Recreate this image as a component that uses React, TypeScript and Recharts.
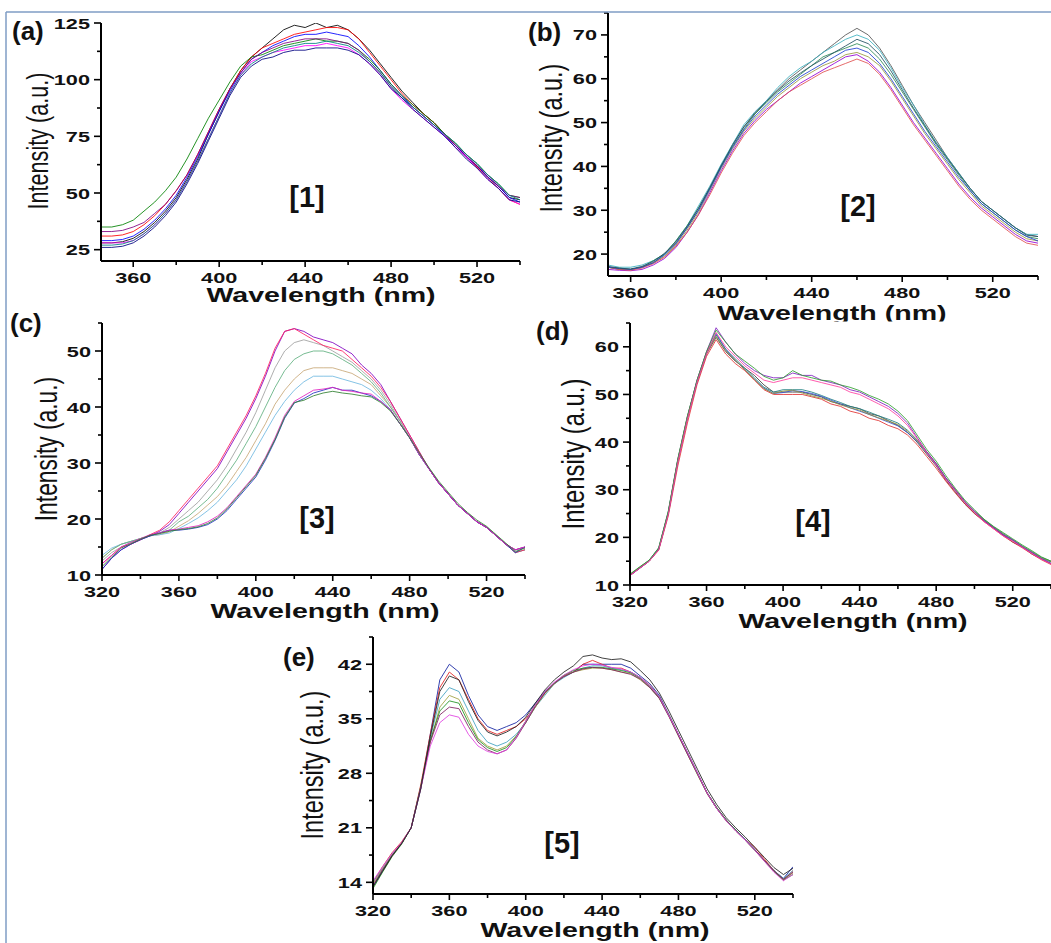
import React from 'react';
import { LineChart, Line, XAxis, YAxis } from 'recharts';

// ---------- Panel (a) ----------
const A_W = [345,350,355,360,365,370,375,380,385,390, 395,400,405,410,415,420,425,430,435,440, 445,450,455,460,465,470,475,480,485,490, 495,500,505,510,515,520,525,530,535,540];
const A1 = [28,28,28.5,30,33,37,42,48,56,65, 76,86,96,104,110,114,118,122,124,123, 125,123,124,122,118,113,107,101,95,90, 85,81,76,71,66,62,57,53,48,47];
const A2 = [31,31,31.5,33,36,40,45,51,58,67, 77,87,96,104,110,114,116,118,120,121, 122,123,123,122,118,112,106,100,94,89, 85,81,76,71,66,61.5,57,52,47,45];
const A3 = [29,29,29.5,31,34,38,43,49,57,66, 76,86,95,103,109,112,115,117,119,120, 120,121,120,119,115,110,104,98,93,88, 84,80,75,71,66,62,57,53,48,46];
const A4 = [35,35,36,38,42,46,51,57,65,74, 83,91,99,106,110,111,113,115,116,117, 118,117,117,116,113,109,104,98,93,89, 85,81,76,72,67,63,58,54,49,48];
const A5 = [28,28,28,29,32,36,41,47,55,64, 74,84,94,102,108,110,112,113,114,115, 115,116,115,114,111,107,102,96,91,87, 83,79,75,70,66,61,56,52,47,45];
const A6 = [33,33,33.5,35,37,41,45,51,58,67, 77,87,96,103,109,112,114,116,117,118, 118,118,117,116,113,108,103,97,92,88, 84,80,76,71,67,62,58,53,49,48];
const A7 = [27,27,27.5,29,32,36,41,47,55,64, 74,84,94,102,107,110,112,114,115,116, 116,117,116,115,112,108,103,97,92,88, 84,80,76,72,67,63,58,54,49,47];
const A8 = [26,26,26.5,28,31,35,40,46,54,63, 73,83,93,101,106,109,110,112,113,113, 114,114,114,113,111,107,102,96,92,87, 83,79,75,70,65,61,56,52,47,46];
const A_X_MAJOR = [360,400,440,480,520];
const A_X_MINOR = [380,420,460,500,540];
const A_Y_MAJOR = [25,50,75,100,125];
const A_Y_MINOR = [37.5,62.5,87.5,112.5];

// ---------- Panel (b) ----------
const B_W = [350,355,360,365,370,375,380,385,390,395, 400,405,410,415,420,425,430,435,440,445, 450,455,460,465,470,475,480,485,490,495, 500,505,510,515,520,525,530,535,540];
const B1 = [17,16.5,16.5,17,18,20,22.5,26,30,35, 40,45,49,52,55,57.5,60,62,64,66, 68,70,71.5,70,67,63,58.5,54,50,46, 42,38.5,35,32,30,28,26,24.5,24];
const B2 = [17.5,17,17,17.5,18.5,20,23,26.5,31,35.5, 40.5,45,49.5,52.5,55,58,60.5,62.5,64,66, 67.5,69,70,69,66.5,62.5,58,54,49.5,45.5, 42,38.5,35,32,30,28,26,24.5,24.5];
const B3 = [17,16.8,16.5,17,18.5,20,23,26.5,30.5,35, 40,44.5,48.5,52,54.5,57,59,61,63,65, 66,67,68,67,64.5,61,57,53,49,45, 41.5,38,34.5,31.5,29.5,27.5,25.5,24,23.5];
const B4 = [17,16.5,16.5,17,18,19.5,22,25.5,29.5,34.5, 39.5,44,48,51,53.5,56,58,60,61.5,63, 64,65.5,66,65,63,59.5,55.5,51.5,47.5,44, 40.5,37,34,31,29,27,25,23.5,23];
const B5 = [16.5,16.3,16.2,16.5,17.5,19,21.5,25,29,34, 39,43.5,47.5,50.5,53,55,57,59,60.5,62, 63.5,65,65.5,64,61.5,58,54,50,46.5,43, 39.5,36,33,30.5,28.5,26.5,24.5,23,22.5];
const B6 = [17,16.5,16.3,16.8,17.8,19.3,21.8,25,29,33.5, 38.5,43,47,50,52.5,55,57,58.5,60,61.5, 62.5,63.5,64.5,63.5,61,57.5,53.5,49.5,46,42.5, 39,35.5,32.5,30,28,26,24,22.5,22];
const B7 = [17,16.7,16.5,17,18,19.8,22.3,26,30,34.8, 39.8,44.3,48.3,51.5,54,56.5,58.5,60.5,62,63.5, 65,66.5,67,66,63.5,60,56,52,48,44.5, 41,37.5,34.5,31.5,29.5,27.5,25.5,24,23];
const B8 = [17.2,16.8,16.6,17.2,18.3,20.2,22.8,26.3,30.5,35.2, 40.2,44.8,49,52.3,54.8,57.3,59.5,61.3,63,64.5, 66,67.5,69,68,65.5,61.8,57.5,53.3,49.3,45.3, 41.8,38.3,35,32,30,28,26,24.3,24];
const B_X_MAJOR = [360,400,440,480,520];
const B_X_MINOR = [380,420,460,500,540];
const B_Y_MAJOR = [20,30,40,50,60,70];
const B_Y_MINOR = [25,35,45,55,65,75];

// ---------- Panel (c) ----------
const C_W = [320,325,330,335,340,345,350,355,360,365, 370,375,380,385,390,395,400,405,410,415, 420,425,430,435,440,445,450,455,460,465, 470,475,480,485,490,495,500,505,510,515, 520,525,530,535,540];
const C1 = [11,13,14.5,15.5,16.3,17,17.8,19,21,23, 25,27,29,32,35,38,41.5,45.5,50,53.5, 54,53.5,52.5,52,51.5,50.5,49.5,47.5,46,44, 41,38,35,32,29,26.5,24.5,22.5,21,19.5, 18.5,17,15.5,14.5,15];
const C2 = [12,13.5,15,15.5,16.3,17.2,18,19.5,21.5,23.5, 25.5,27.5,29.5,32.5,35.5,38.5,42,46,50.5,53.5, 54,53,52,51,50.5,50,48.5,47,45.5,43.5, 41,38,35,32,29,26.5,24.5,22.5,21,19.5, 18.5,17,15.5,14,14.5];
const C3 = [12.5,14,15,15.8,16.5,17,17.5,18.5,20,21.5, 23,25,27,29.5,32.5,35.5,39,43,47,50, 51.5,52,51.5,51,50,49,48,46.5,45,43, 40.5,37.5,34.5,31.5,29,26.5,24.5,22.5,21,19.5, 18.5,17,15.5,14.5,15];
const C4 = [13,14.5,15.5,16,16.5,17,17.5,18,19.5,20.5, 22,23.5,25.5,28,30.5,33.5,36.5,40,43.5,46.5, 48.5,49.5,50,50,49.5,48.5,47.5,46,44.5,42.5, 40,37.5,34.5,31.5,29,26.5,24.5,22.5,21,19.5, 18.5,17,15.5,14,14.5];
const C5 = [13,14.5,15.5,16,16.5,17,17.2,17.7,18.7,19.7, 21,22.5,24,26,28.5,31,34,37,40.5,43, 45,46.5,47,47,47,46.5,46,45,44,42, 40,37.5,34.5,31.5,29,26.5,24.5,22.5,21,19.5, 18.5,17,15.5,14.5,15];
const C6 = [13.5,14.8,15.5,16,16.5,17,17.2,17.5,18.3,19.2, 20.2,21.5,23,25,27,29.5,32.5,35.5,38.5,41, 43,44.5,45.5,45.5,45.5,45,44.5,44,43,41.5, 39.5,37,34.5,31.5,29,26.5,24.5,22.5,21,19.5, 18.5,17,15.5,14,14.5];
const C7 = [11,13,14.5,15.5,16.3,17,17.5,18,18,18.2, 18.5,19,20,21.5,23.5,25.5,27.5,30.5,34,38, 40.7,41.5,42.5,43,43.5,43,43,42.5,42,41, 39.5,37,34.5,31.5,29,26.5,24.5,22.5,21,19.5, 18.5,17,15.5,14,15];
const C8 = [12,13.5,15,15.8,16.5,17.2,17.5,18,18.2,18.5, 18.8,19.5,20.5,22,24,26,28,31,34.5,38.5, 41,42,43,43.2,43.5,43,42.8,42.5,42.3,41, 39.5,37,34.5,31.5,29,26.5,24.5,22.5,21,19.5, 18.5,17,15.5,14.5,15];
const C9 = [11.5,13.2,14.8,15.6,16.4,17.1,17.4,17.8,18.1,18.3, 18.6,19.2,20.2,21.8,23.8,25.8,27.8,30.8,34.2,38.2, 40.8,41.2,42,42.5,42.8,42.5,42.3,42,41.8,40.8, 39.3,37,34.5,31.8,29.2,26.8,24.8,22.8,21.2,19.8, 18.7,17.2,15.7,14.2,14.8];
const C_X_MAJOR = [320,360,400,440,480,520];
const C_X_MINOR = [340,380,420,460,500,540];
const C_Y_MAJOR = [10,20,30,40,50];
const C_Y_MINOR = [15,25,35,45,55];

// ---------- Panel (d) ----------
const D_W = [320,325,330,335,340,345,350,355,360,365, 370,375,380,385,390,395,400,405,410,415, 420,425,430,435,440,445,450,455,460,465, 470,475,480,485,490,495,500,505,510,515, 520,525,530,535,540];
const D1 = [12,13.5,15,17.5,25,36,45,52.5,58.5,62, 59,57,55.5,54,52,50.5,50.5,50.5,50.5,50, 49.5,48.5,48,47.5,47,46,45.5,44.5,43.5,42, 40,37.5,35,32,29.5,27,25,23.5,22,20.5, 19,18,16.5,15.5,14.5];
const D2 = [12.2,13.7,15.2,17.8,25.5,36.5,45.5,52.8,58.8,62.5, 59.5,57.5,55.5,53.5,51.5,50.5,51,51,51,50.5, 49.8,49,48.3,47.5,47,46.3,45.5,44.8,44,42.5, 40.5,38,35.5,32.5,30,27.5,25.5,23.8,22.2,20.8, 19.5,18.2,17,15.8,15];
const D3 = [12,13.5,15,17.3,24.5,35,44,52,58,61.5, 58.5,56.5,55,53,51,50,50,50,50,49.5, 49,48,47.5,46.5,46,45,44.5,43.5,42.8,41.5, 39.5,37,34.5,31.8,29.3,27,25,23.3,21.8,20.3, 19,17.8,16.5,15.3,14.3];
const D4 = [12.1,13.6,15.1,17.6,25.2,36.2,45.2,52.6,58.6,62.8, 59.5,57.2,55.2,53.2,51.3,50.2,50.4,50.8,50.6,50.2, 49.6,48.8,48,47.2,46.5,45.8,45,44.2,43.4,42, 40.2,37.8,35.2,32.3,29.8,27.3,25.3,23.6,22.1,20.6, 19.3,18,16.8,15.6,14.8];
const D5 = [12,13.5,15,17.5,25,36,45,53,59,64, 61,58.5,56.5,55,54,53.5,53.5,54.5,54,54, 53,52.5,52,51,50.5,49.5,48.5,47.5,46,44, 41,38,35.5,32.5,30,27.5,25.5,23.5,22,20.5, 19.5,18,16.8,15.5,14.5];
const D6 = [12.3,13.8,15.2,17.8,25.3,36.3,45.3,53,59,63.5, 61,58.5,57,55.5,53.8,53,53.5,55,54,53.5, 53,52.8,52,51.5,50.8,49.8,49,48,46.5,44.5, 41.5,38.5,36,33,30.3,27.8,25.8,23.8,22.3,21, 19.7,18.4,17.2,15.9,15];
const D7 = [12,13.5,15,17.4,24.8,35.8,44.8,52.5,58.5,63, 60,58,56,54.5,53,52.5,53,53.5,53.5,53, 52.5,52,51.5,50.5,50,49,48,47,45.5,43.5, 40.8,37.8,35.2,32.2,29.8,27.3,25.3,23.3,21.8,20.3, 19.2,17.9,16.6,15.4,14.4];
const D8 = [12.2,13.7,15.1,17.6,25.3,36.4,45.4,52.7,58.7,62.2, 59.2,57.2,55.2,53.2,51.2,50.2,50.7,50.9,50.3,49.7, 49.2,48.6,47.8,47.2,46.7,45.8,45.1,44.4,43.7,42.3, 40.4,37.9,35.4,32.4,29.9,27.4,25.4,23.7,22.1,20.7, 19.4,18.1,16.9,15.7,14.9];
const D_X_MAJOR = [320,360,400,440,480,520];
const D_X_MINOR = [340,380,420,460,500,540];
const D_Y_MAJOR = [10,20,30,40,50,60];
const D_Y_MINOR = [15,25,35,45,55,65];

// ---------- Panel (e) ----------
const E_W = [320,325,330,335,340,345,350,355,360,365, 370,375,380,385,390,395,400,405,410,415, 420,425,430,435,440,445,450,455,460,465, 470,475,480,485,490,495,500,505,510,515, 520,525,530,535,540];
const E1 = [13.5,15.5,17.5,19,21,26,33,40,42,41, 38,35.5,34,33.5,34,34.5,35.5,37,38.5,39.5, 40.5,41,42,42,42,42,42,41.5,40.5,39.5, 38,35.5,33,30.5,28,25.5,23.5,22,20.7,19.5, 18.2,16.8,15.5,14.5,16];
const E2 = [14,16,17.8,19.2,21,26.5,33,39,41,40, 37.5,35,33.5,33,33.5,34,35,36.5,38.3,39.5, 40.5,41,42,42.5,42,41.5,41.5,41,40.3,39.3, 37.8,35.5,33,30.5,28,25.5,23.6,22,20.7,19.5, 18.5,17,15.5,14.3,15.5];
const E3 = [14,15.8,17.6,19,21,26,32.5,37.5,39,38.5, 36,33.5,32,31.5,32,33,34.5,36.5,38,39.5, 40.3,41,41.5,41.8,41.8,41.5,41.3,41,40.3,39.2, 37.8,35.5,33,30.5,28,25.5,23.6,22,20.7,19.5, 18.2,16.8,15.5,14.5,15.5];
const E4 = [13.8,15.7,17.5,19,21,26,32,36.5,38,37.5, 35,32.5,31.5,31,31.5,32.8,34.5,36.5,38.2,39.5, 40.5,41,41.3,41.5,41.5,41.3,41,40.8,40,39, 37.6,35.3,32.8,30.3,27.8,25.4,23.5,21.9,20.6,19.4, 18.1,16.7,15.4,14.4,15.2];
const E5 = [13.2,15.3,17.3,18.9,21,26.3,32.2,36,37.3,37, 34.5,32.3,31.3,30.8,31.3,32.7,34.7,36.8,38.4,39.6, 40.6,41.2,41.5,41.6,41.6,41.4,41.2,40.9,40.2,39.1, 37.7,35.4,32.9,30.4,27.9,25.5,23.6,22,20.7,19.4, 18.1,16.8,15.4,14.3,15];
const E6 = [13.6,15.6,17.4,19,21,26.2,32,35.5,36.5,36.3, 34,32,31,30.5,31,32.5,34.5,36.6,38.3,39.6, 40.4,41,41.4,41.6,41.5,41.3,41,40.7,40.1,39, 37.6,35.3,32.8,30.3,27.9,25.4,23.5,21.9,20.6,19.4, 18.2,16.8,15.5,14.4,15.3];
const E7 = [14.2,16,17.7,19.1,21,26,31.5,34.5,35.5,35.2, 33,31.5,30.8,30.5,31,32.6,34.7,36.8,38.5,39.7, 40.6,41.3,41.8,42,41.9,41.6,41.4,41,40.3,39.2, 37.8,35.4,33,30.5,28,25.5,23.5,21.9,20.6,19.4, 18.1,16.7,15.3,14.2,15];
const E8 = [13.4,15.4,17.4,19,21,26,32.7,38.5,40.5,40, 37.2,34.8,33.3,32.8,33.3,34,35.2,37,38.7,40, 41,41.8,43,43.2,42.8,42.6,42.7,42.3,41.2,40, 38.3,36,33.5,31,28.5,26,24,22.3,21,19.8, 18.5,17.2,15.9,15,15.8];
const E_X_MAJOR = [320,360,400,440,480,520];
const E_X_MINOR = [340,380,420,460,500,540];
const E_Y_MAJOR = [14,21,28,35,42];
const E_Y_MINOR = [17.5,24.5,31.5,38.5,45.5];

// ---------- styling / layout ----------
const FONT = "'Liberation Sans', Arial, Helvetica, sans-serif";
const STRETCH = 1.4;

const COLORS_A = ['#000000', '#ff0000', '#0000ff', '#008000', '#ff00ff', '#800080', '#008080', '#000080'];
const COLORS_B = ['#555555', '#3cb0c0', '#2e8b57', '#9a9a40', '#9400d3', '#e05050', '#2040d0', '#205060'];
const COLORS_C = ['#8000c0', '#ff2060', '#a0a0a0', '#60b080', '#c8a878', '#70b8e0', '#2030c0', '#e020c0', '#308030'];
const COLORS_D = ['#404040', '#208080', '#e03030', '#3050d0', '#8020c0', '#30a030', '#ff40a0', '#909040'];
const COLORS_E = ['#1020a0', '#e02020', '#40a0c0', '#a0a040', '#209020', '#802060', '#e040e0', '#202020'];

type PanelCfg = {
  w: number[];
  series: number[][];
  colors: string[];
  xDomain: [number, number];
  yDomain: [number, number];
  xMajor: number[];
  xMinor: number[];
  yMajor: number[];
  yMinor: number[];
  left: number;
  top: number;
  right: number;
  bottom: number;
};

const XTick = (props: any) => {
  const { x, y, payload, majors } = props;
  const v = payload.value;
  const major = majors.includes(v);
  return (
    <g>
      <line x1={x} x2={x} y1={y} y2={y + (major ? 6 : 4)} stroke="#000" strokeWidth={1.6} />
      {major && (
        <text
          transform={`translate(${x},${y + 22}) scale(${STRETCH},1)`}
          textAnchor="middle"
          fontFamily={FONT}
          fontWeight="bold"
          fontSize={15.5}
          fill="#111"
        >
          {v}
        </text>
      )}
    </g>
  );
};

const YTick = (props: any) => {
  const { x, y, payload, majors } = props;
  const v = payload.value;
  const major = majors.includes(v);
  return (
    <g>
      <line x1={x} x2={x - (major ? 7 : 4)} y1={y} y2={y} stroke="#000" strokeWidth={1.6} />
      {major && (
        <text
          transform={`translate(${x - 11},${y + 5.5}) scale(${STRETCH},1)`}
          textAnchor="end"
          fontFamily={FONT}
          fontWeight="bold"
          fontSize={15.5}
          fill="#111"
        >
          {v}
        </text>
      )}
    </g>
  );
};

function Panel({ cfg }: { cfg: PanelCfg }) {
  const PADL = 60, PADR = 14, PADT = 10, PADB = 34;
  const pw = cfg.right - cfg.left;
  const ph = cfg.bottom - cfg.top;
  const data = cfg.w.map((w, i) => {
    const row: any = { w };
    cfg.series.forEach((s, j) => {
      row['s' + j] = s[i];
    });
    return row;
  });
  return (
    <div style={{ position: 'absolute', left: cfg.left - PADL, top: cfg.top - PADT }}>
      <LineChart
        width={pw + PADL + PADR}
        height={ph + PADT + PADB}
        data={data}
        margin={{ top: PADT, right: PADR, left: 0, bottom: 0 }}
      >
        <XAxis
          dataKey="w"
          type="number"
          domain={cfg.xDomain}
          ticks={[...cfg.xMajor, ...cfg.xMinor]}
          interval={0}
          allowDataOverflow
          height={PADB}
          tickSize={0}
          tickMargin={0}
          tickLine={false}
          axisLine={{ stroke: '#000', strokeWidth: 2 }}
          tick={<XTick majors={cfg.xMajor} />}
        />
        <YAxis
          type="number"
          domain={cfg.yDomain}
          ticks={[...cfg.yMajor, ...cfg.yMinor]}
          interval={0}
          allowDataOverflow
          width={PADL}
          tickSize={0}
          tickMargin={0}
          tickLine={false}
          axisLine={{ stroke: '#000', strokeWidth: 2 }}
          tick={<YTick majors={cfg.yMajor} />}
        />
        {cfg.series.map((s, j) => (
          <Line
            key={j}
            dataKey={'s' + j}
            type="linear"
            stroke={cfg.colors[j % cfg.colors.length]}
            strokeWidth={1}
            strokeOpacity={0.85}
            dot={false}
            activeDot={false}
            isAnimationActive={false}
          />
        ))}
      </LineChart>
    </div>
  );
}

const PANEL_A: PanelCfg = {
  w: A_W, series: [A1, A2, A3, A4, A5, A6, A7, A8], colors: COLORS_A,
  xDomain: [345, 540], yDomain: [20, 125],
  xMajor: A_X_MAJOR, xMinor: A_X_MINOR, yMajor: A_Y_MAJOR, yMinor: A_Y_MINOR,
  left: 101, top: 23, right: 520, bottom: 261,
};
const PANEL_B: PanelCfg = {
  w: B_W, series: [B1, B2, B3, B4, B5, B6, B7, B8], colors: COLORS_B,
  xDomain: [350, 540], yDomain: [15, 75],
  xMajor: B_X_MAJOR, xMinor: B_X_MINOR, yMajor: B_Y_MAJOR, yMinor: B_Y_MINOR,
  left: 608, top: 13, right: 1038, bottom: 276,
};
const PANEL_C: PanelCfg = {
  w: C_W, series: [C5, C6, C4, C3, C1, C2, C7, C8, C9], colors: [COLORS_C[4], COLORS_C[5], COLORS_C[3], COLORS_C[2], COLORS_C[0], COLORS_C[1], COLORS_C[6], COLORS_C[7], COLORS_C[8]],
  xDomain: [320, 540], yDomain: [10, 55],
  xMajor: C_X_MAJOR, xMinor: C_X_MINOR, yMajor: C_Y_MAJOR, yMinor: C_Y_MINOR,
  left: 102, top: 323, right: 525, bottom: 575,
};
const PANEL_D: PanelCfg = {
  w: D_W, series: [D1, D2, D3, D4, D8, D5, D6, D7], colors: [COLORS_D[0], COLORS_D[1], COLORS_D[2], COLORS_D[3], COLORS_D[7], COLORS_D[4], COLORS_D[5], COLORS_D[6]],
  xDomain: [320, 540], yDomain: [10, 65],
  xMajor: D_X_MAJOR, xMinor: D_X_MINOR, yMajor: D_Y_MAJOR, yMinor: D_Y_MINOR,
  left: 630, top: 323, right: 1051, bottom: 585,
};
const PANEL_E: PanelCfg = {
  w: E_W, series: [E1, E2, E3, E4, E5, E6, E7, E8], colors: COLORS_E,
  xDomain: [320, 540], yDomain: [12.5, 45.5],
  xMajor: E_X_MAJOR, xMinor: E_X_MINOR, yMajor: E_Y_MAJOR, yMinor: E_Y_MINOR,
  left: 373, top: 637, right: 793, bottom: 894,
};

const PANEL_TAGS = [
  { t: '(a)', x: 12, y: 40 },
  { t: '(b)', x: 528, y: 41 },
  { t: '(c)', x: 10, y: 332 },
  { t: '(d)', x: 536, y: 340 },
  { t: '(e)', x: 283, y: 666 },
];
const SAMPLE_TAGS = [
  { t: '[1]', x: 307, y: 207 },
  { t: '[2]', x: 858, y: 216 },
  { t: '[3]', x: 317, y: 528 },
  { t: '[4]', x: 813, y: 531 },
  { t: '[5]', x: 562, y: 853 },
];
const X_TITLES = [
  { x: 321, y: 302, clip: false },
  { x: 832, y: 320, clip: true },
  { x: 325, y: 618, clip: false },
  { x: 853, y: 628, clip: false },
  { x: 595, y: 937, clip: false },
];
const Y_TITLES = [
  { x: 38, y: 141, s: 21.6 },
  { x: 551, y: 138, s: 23.5 },
  { x: 46, y: 449, s: 22.8 },
  { x: 573, y: 454, s: 23.8 },
  { x: 312, y: 765, s: 23.5 },
];

export default function App() {
  return (
    <div
      style={{
        position: 'absolute',
        left: 0,
        top: 0,
        width: 1051,
        height: 943,
        background: '#fff',
        overflow: 'hidden',
      }}
    >
      <Panel cfg={PANEL_A} />
      <Panel cfg={PANEL_B} />
      <Panel cfg={PANEL_C} />
      <Panel cfg={PANEL_D} />
      <Panel cfg={PANEL_E} />
      <svg
        width={1051}
        height={943}
        style={{ position: 'absolute', left: 0, top: 0, pointerEvents: 'none' }}
      >
        <defs>
          <clipPath id="clipB" clipPathUnits="userSpaceOnUse">
            <rect x={0} y={0} width={1051} height={321.5} />
          </clipPath>
        </defs>
        <line x1={6} y1={12} x2={1051} y2={12} stroke="#7f9cc4" strokeWidth={1.5} />
        <line x1={6} y1={12} x2={6} y2={943} stroke="#7f9cc4" strokeWidth={1.5} />
        {PANEL_TAGS.map((p) => (
          <text key={p.t} x={p.x} y={p.y} fontFamily={FONT} fontWeight="bold" fontSize={26} fill="#111">
            {p.t}
          </text>
        ))}
        {SAMPLE_TAGS.map((p) => (
          <text key={p.t} x={p.x} y={p.y} textAnchor="middle" fontFamily={FONT} fontWeight="bold" fontSize={29} fill="#111">
            {p.t}
          </text>
        ))}
        {X_TITLES.map((p, i) => (
          <g key={'xt' + i} clipPath={p.clip ? 'url(#clipB)' : undefined}>
            <text
              transform={`translate(${p.x},${p.y}) scale(1.43,1)`}
              textAnchor="middle"
              fontFamily={FONT}
              fontWeight="bold"
              fontSize={20}
              fill="#111"
            >
              Wavelength (nm)
            </text>
          </g>
        ))}
        {Y_TITLES.map((p, i) => (
          <text
            key={'yt' + i}
            transform={`translate(${p.x},${p.y}) scale(1.35,1) rotate(-90)`}
            textAnchor="middle"
            dominantBaseline="central"
            fontFamily={FONT}
            fontSize={p.s}
            fill="#111"
          >
            Intensity (a.u.)
          </text>
        ))}
      </svg>
    </div>
  );
}
